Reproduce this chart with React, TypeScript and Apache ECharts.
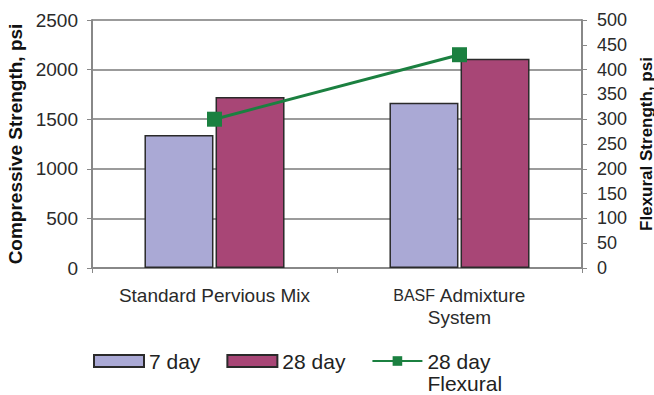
import React, { useEffect, useRef } from "react";
import * as echarts from "echarts";

const categories = ["Standard Pervious Mix", "BASF Admixture\nSystem"];
const day7 = [1340, 1665];
const day28 = [1725, 2110];
const flexural28 = [300, 430];
const leftTicks = [0, 2500, 500];
const rightTicks = [0, 500, 50];

export default function App() {
  const ref = useRef<HTMLDivElement>(null);
  useEffect(() => {
    const chart = echarts.init(ref.current!, null, { renderer: "svg" });
    const font = "Liberation Sans, Arial, sans-serif";
    chart.setOption({
      animation: false,
      backgroundColor: "#ffffff",
      textStyle: { fontFamily: font },
      grid: {
        left: 92,
        right: 72,
        top: 20,
        bottom: 127,
        containLabel: false,
        outerBoundsMode: "none",
      },
      legend: {
        left: 93,
        top: 328,
        padding: 0,
        itemWidth: 50,
        itemHeight: 12,
        itemGap: 26,
        textStyle: { fontSize: 21, color: "#222", fontFamily: font, lineHeight: 22 },
        formatter: (name: string) =>
          name === "28 day Flexural" ? "\n28 day\nFlexural" : name,
        data: [
          { name: "7 day", icon: "rect" },
          { name: "28 day", icon: "rect" },
          { name: "28 day Flexural" },
        ],
      },
      xAxis: {
        type: "category",
        data: categories,
        axisLine: { lineStyle: { color: "#888", width: 2 } },
        axisTick: { show: true, length: 5, lineStyle: { color: "#888" } },
        axisLabel: {
          interval: 0,
          hideOverlap: false,
          fontSize: 19,
          color: "#2a2a2a",
          margin: 16,
          lineHeight: 22,
          fontFamily: font,
          formatter: (v: string) => v.replace("BASF", "{s|BASF}"),
          rich: { s: { fontSize: 16, color: "#2a2a2a", fontFamily: font, lineHeight: 22 } },
        },
      },
      yAxis: [
        {
          type: "value",
          min: leftTicks[0],
          max: leftTicks[1],
          interval: leftTicks[2],
          name: "Compressive Strength, psi",
          nameLocation: "middle",
          nameRotate: 90,
          nameGap: 62,
          nameTextStyle: { fontSize: 19, fontWeight: "bold", color: "#111", fontFamily: font },
          axisLine: { show: true, lineStyle: { color: "#888", width: 2 } },
          axisTick: { show: true, length: 5, lineStyle: { color: "#888" } },
          axisLabel: {
            fontSize: 19,
            color: "#2a2a2a",
            margin: 14,
            fontFamily: font,
            formatter: (v: number) => String(v),
          },
          splitLine: { show: true, lineStyle: { color: "#7a7a7a", width: 1.5 } },
        },
        {
          type: "value",
          position: "right",
          min: rightTicks[0],
          max: rightTicks[1],
          interval: rightTicks[2],
          name: "Flexural Strength, psi",
          nameLocation: "middle",
          nameRotate: 90,
          nameGap: 48,
          nameTextStyle: {
            fontSize: 17,
            lineHeight: 15,
            fontWeight: "bold",
            color: "#111",
            fontFamily: font,
          },
          axisLine: { show: true, lineStyle: { color: "#888", width: 2 } },
          axisTick: { show: true, length: 5, lineStyle: { color: "#888" } },
          axisLabel: {
            fontSize: 18,
            color: "#2a2a2a",
            margin: 15,
            fontFamily: font,
            formatter: (v: number) => String(v),
          },
          splitLine: { show: false },
        },
      ],
      series: [
        {
          name: "7 day",
          type: "bar",
          data: day7,
          barWidth: 69,
          barGap: "3%",
          itemStyle: { color: "#aaa9d5", borderColor: "#2a2a2a", borderWidth: 1.5 },
        },
        {
          name: "28 day",
          type: "bar",
          data: day28,
          barWidth: 69,
          barGap: "3%",
          itemStyle: { color: "#a84676", borderColor: "#2a2a2a", borderWidth: 1.5 },
        },
        {
          name: "28 day Flexural",
          type: "line",
          yAxisIndex: 1,
          data: flexural28,
          symbol: "rect",
          symbolSize: 15,
          lineStyle: { color: "#1b8040", width: 3 },
          itemStyle: { color: "#1b8040" },
        },
      ],
    });
    return () => chart.dispose();
  }, []);
  return (
    <div
      ref={ref}
      style={{ position: "fixed", left: 0, top: 0, width: 654, height: 395 }}
    />
  );
}
